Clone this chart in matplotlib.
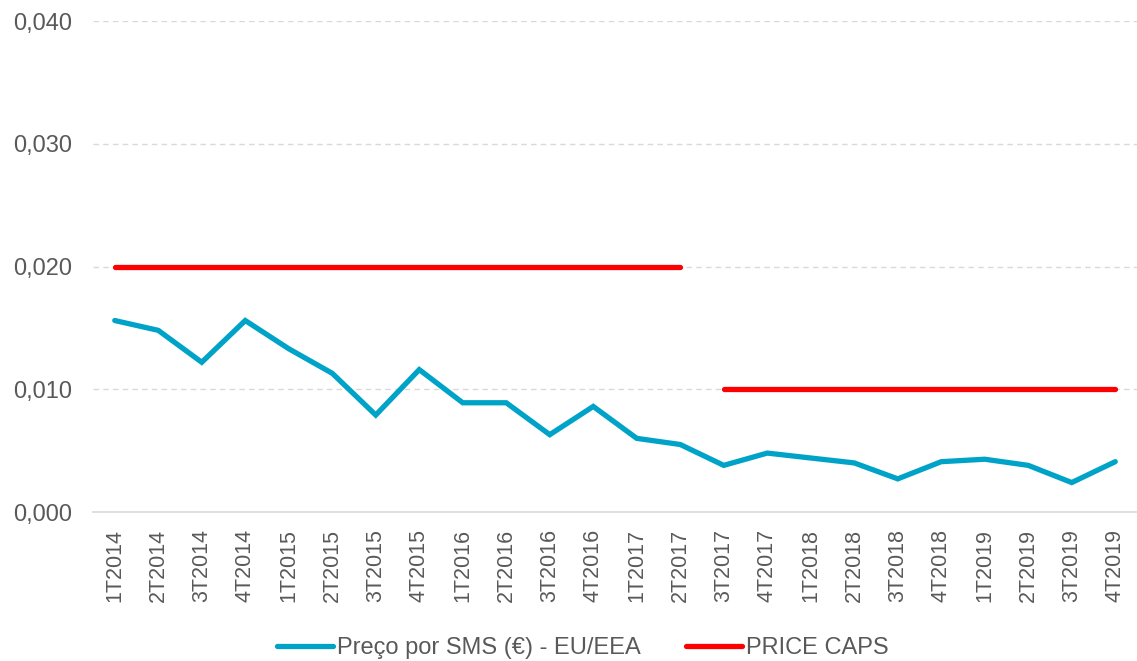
import numpy as np
import matplotlib
matplotlib.use('Agg')
import matplotlib.pyplot as plt
from matplotlib.ticker import FuncFormatter

plt.rcParams['font.family'] = ['Liberation Sans', 'DejaVu Sans']

quarters = ['1T2014', '2T2014', '3T2014', '4T2014', '1T2015', '2T2015', '3T2015', '4T2015',
            '1T2016', '2T2016', '3T2016', '4T2016', '1T2017', '2T2017', '3T2017', '4T2017',
            '1T2018', '2T2018', '3T2018', '4T2018', '1T2019', '2T2019', '3T2019', '4T2019']

# preço médio por SMS (EUR)
sms_price = [0.0156, 0.0148, 0.0122, 0.0156, 0.0133, 0.0113, 0.0079, 0.0116,
             0.0089, 0.0089, 0.0063, 0.0086, 0.0060, 0.0055, 0.0038, 0.0048,
             0.0044, 0.0040, 0.0027, 0.0041, 0.0043, 0.0038, 0.0024, 0.0041]

# price caps: 0,02 até 2T2017, 0,01 a partir de 3T2017
cap_old = [0.02] * 14 + [np.nan] * 10
cap_new = [np.nan] * 14 + [0.01] * 10

grey = '#595959'
blue = '#00A3C8'
red = '#FF0000'

fig = plt.figure(figsize=(11.37, 6.61), dpi=100)
ax = fig.add_axes([0.0818, 0.2254, 0.9182, 0.7428])

x = np.arange(len(quarters))
ax.plot(x, sms_price, color=blue, lw=3.8, solid_capstyle='round', solid_joinstyle='miter',
        label='Preço por SMS (€) - EU/EEA', zorder=3)
ax.plot(x, cap_old, color=red, lw=3.8, solid_capstyle='round', label='PRICE CAPS', zorder=3)
ax.plot(x, cap_new, color=red, lw=3.8, solid_capstyle='round', zorder=3)

ax.set_xlim(-0.5, len(quarters) - 0.5)
ax.set_ylim(0, 0.04)
ax.set_yticks([0, 0.01, 0.02, 0.03, 0.04])
ax.yaxis.set_major_formatter(FuncFormatter(lambda v, p: f'{v:.3f}'.replace('.', ',')))
ax.set_xticks(x)
ax.set_xticklabels(quarters, rotation=90)

ax.grid(axis='y', color='#d9d9d9', linestyle=(0, (4, 3)), lw=1)
ax.set_axisbelow(True)
for s in ['top', 'right', 'left']:
    ax.spines[s].set_visible(False)
ax.spines['bottom'].set_color('#d9d9d9')
ax.spines['bottom'].set_linewidth(1.2)
ax.tick_params(length=0, colors=grey)
ax.tick_params(axis='x', labelsize=15.5, pad=12)
ax.tick_params(axis='y', labelsize=17, pad=15)

leg = ax.legend(loc='center', bbox_to_anchor=(0.469, -0.277), ncol=2, frameon=False,
                fontsize=17, handlelength=2.4, handletextpad=0.15, columnspacing=1.9)
for t in leg.get_texts():
    t.set_color(grey)

fig.savefig('out.png', dpi=100)
